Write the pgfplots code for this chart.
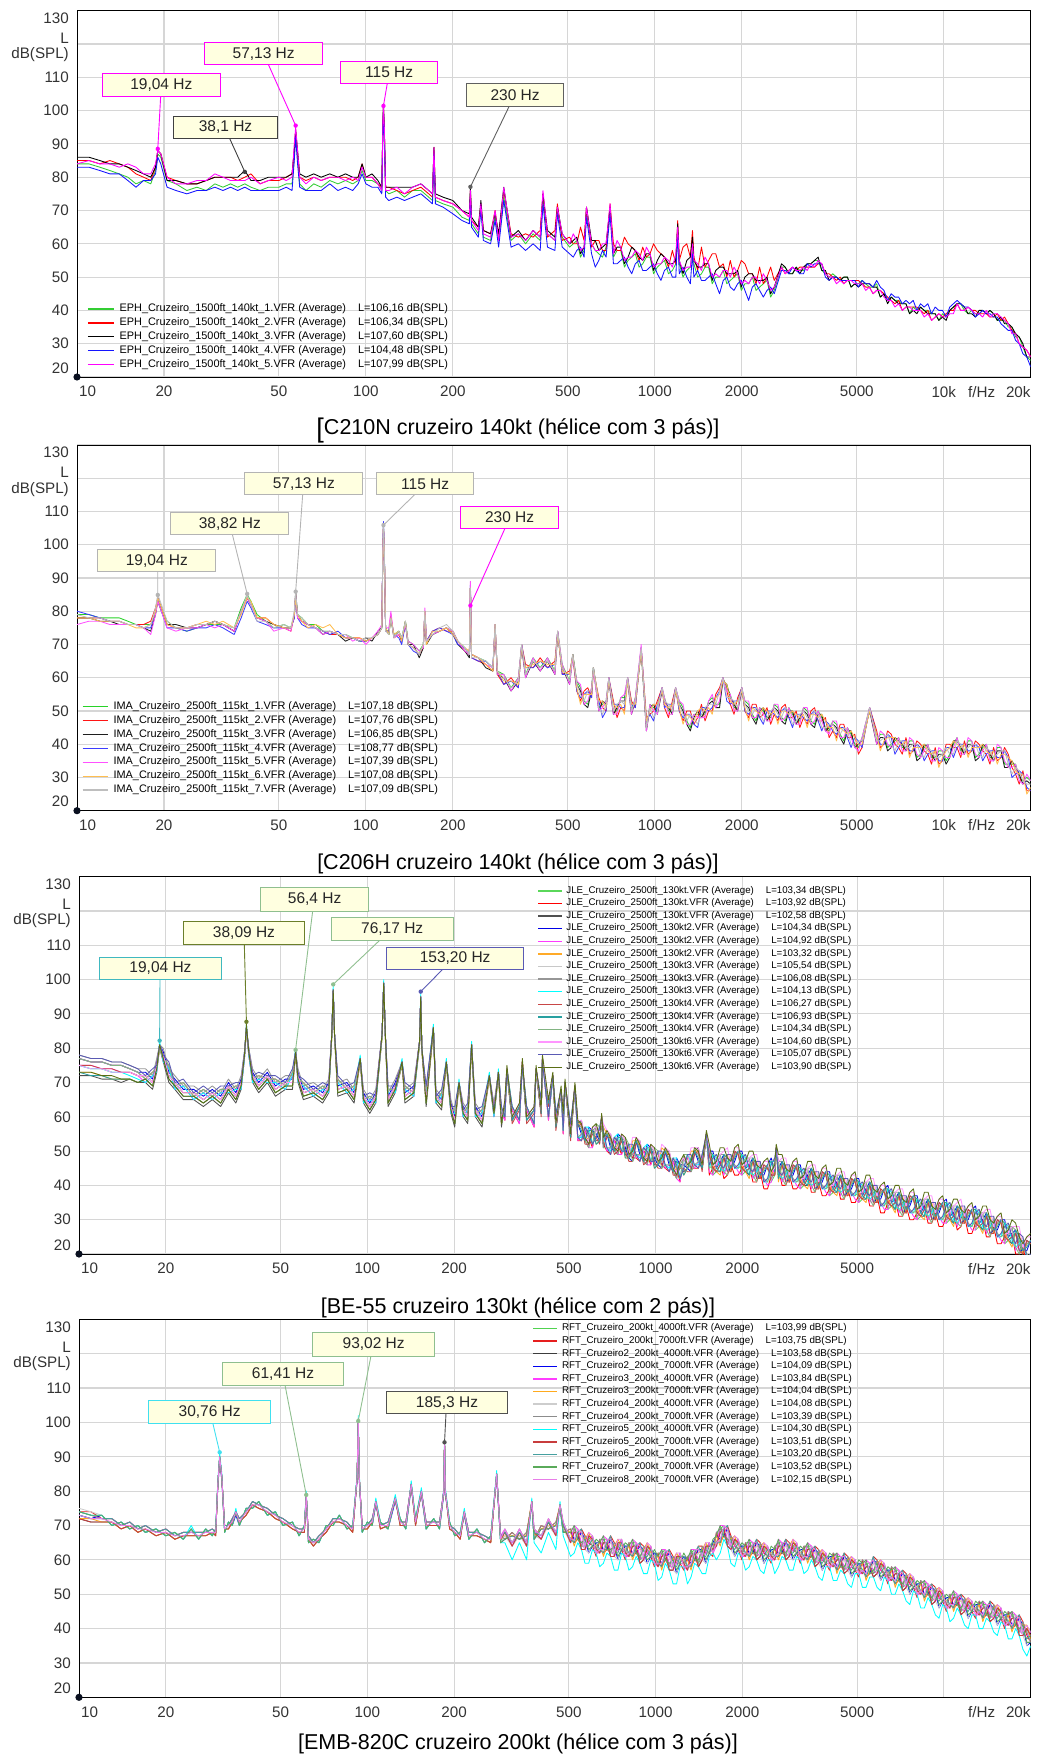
\documentclass[border=0pt]{standalone}
\usepackage{fontspec}
\setmainfont{Liberation Sans}
\usepackage{pgfplots}
\usepackage{pgfplotstable}
\pgfplotsset{compat=1.18}
\definecolor{gridc}{RGB}{214,214,214}
\definecolor{boxfill}{RGB}{255,255,224}
\definecolor{dotc}{RGB}{10,16,32}
\definecolor{aG}{RGB}{50,205,50}\definecolor{aR}{RGB}{255,0,0}\definecolor{aK}{RGB}{0,0,0}
\definecolor{aB}{RGB}{20,20,255}\definecolor{aM}{RGB}{255,0,255}
\definecolor{bG}{RGB}{40,210,40}\definecolor{bR}{RGB}{255,20,20}\definecolor{bK}{RGB}{30,30,30}
\definecolor{bB}{RGB}{60,60,255}\definecolor{bM}{RGB}{255,80,255}\definecolor{bO}{RGB}{255,190,80}
\definecolor{bL}{RGB}{190,190,190}
\definecolor{c1}{RGB}{90,215,90}\definecolor{c2}{RGB}{255,0,0}\definecolor{c3}{RGB}{80,80,80}
\definecolor{c4}{RGB}{0,0,230}\definecolor{c5}{RGB}{255,60,255}\definecolor{c6}{RGB}{255,170,40}
\definecolor{c7}{RGB}{200,200,200}\definecolor{c8}{RGB}{150,150,150}\definecolor{c9}{RGB}{0,255,255}
\definecolor{c10}{RGB}{200,70,70}\definecolor{c11}{RGB}{40,160,160}\definecolor{c12}{RGB}{130,180,130}
\definecolor{c13}{RGB}{255,150,255}\definecolor{c14}{RGB}{90,90,180}\definecolor{c15}{RGB}{90,110,20}
\definecolor{d1}{RGB}{80,210,80}\definecolor{d2}{RGB}{230,30,30}\definecolor{d3}{RGB}{60,60,60}
\definecolor{d4}{RGB}{0,0,240}\definecolor{d5}{RGB}{255,60,255}\definecolor{d6}{RGB}{255,170,30}
\definecolor{d7}{RGB}{205,205,205}\definecolor{d8}{RGB}{140,140,140}\definecolor{d9}{RGB}{0,255,255}
\definecolor{d10}{RGB}{200,60,60}\definecolor{d11}{RGB}{70,160,160}\definecolor{d12}{RGB}{90,170,90}
\definecolor{d13}{RGB}{232,125,232}
\definecolor{kA}{RGB}{64,64,64}\definecolor{kB}{RGB}{96,96,96}\definecolor{kC}{RGB}{180,180,180}
\definecolor{kT}{RGB}{64,184,192}\definecolor{kO}{RGB}{107,127,42}\definecolor{kS}{RGB}{143,191,143}
\definecolor{kP}{RGB}{90,90,180}\definecolor{kY}{RGB}{64,224,240}\definecolor{kD}{RGB}{80,80,80}

\pgfplotstableread{
f g r k b m
10 84 85 86 83 84
11 84 85 86 83 85
12 83 84 85 82 84
13 82 85 84 81 84
14 81 84 84 81 83
15 80 83 83 79 84
16 78 81 82 77 83
17 79 80 81 79 81
18 78 79 80 79 81
18.7 82 83 83 81 84
19.04 87 88 88 86 88
19.5 86 87 87 84 87
20.5 79 80 79 77 80
22 78 79 79 76 78
24 76 78 78 75 78
26 77 78 78 76 79
28 76 79 79 76 79
30 78 80 80 77 81
32 77 80 80 76 80
34 78 80 80 77 79
36 77 79 80 76 79
38.1 78 80 82 77 79
40 77 81 79 76 80
43 76 78 79 76 78
46 77 79 80 76 79
50 77 79 80 76 80
53 78 80 80 77 79
55.5 78 81 81 76 80
56.5 86 88 88 85 90
57.13 93 94 94 92 95
58 86 87 88 84 88
59 78 80 81 77 80
62 76 79 80 76 78
66 78 80 81 76 80
70 77 79 80 76 79
75 79 80 81 78 80
80 78 80 80 76 80
85 79 80 81 77 79
90 78 79 80 76 80
94 79 80 80 78 79
97 82 84 84 81 83
100 79 80 80 78 80
105 79 80 81 77 80
110 78 78 79 77 78
113.5 76 77 77 75 76
114.5 95 96 97 94 97
115 100 101 102 99 101
115.8 93 94 95 92 95
117 76 77 77 74 76
120 75 77 77 73 76
128 76 76 77 74 77
136 74 75 77 73 75
145 76 76 77 74 77
155 76 77 78 75 78
165 74 75 76 73 76
170 73 74 75 72 75
172 88 89 89 87 89
174 73 74 75 72 74
185 72 73 74 71 73
200 71 72 73 69 72
215 68 70 70 67 70
228 67 68 69 66 68
230 75 76 77 74 76
232 66 67 68 65 67
245 63 65 65 62 64
250 71 72 73 70 72
255 62 64 64 61 63
270 61 63 63 60 62
280 68 70 69 67 70
288 61 62 63 59 61
300 74 76 77 73 77
318 61 63 62 59 62
337 63 62 64 60 63
357 60 63 61 58 61
379 63 62 64 60 64
401 61 64 62 58 62
410 73 75 75 72 76
425 63 62 64 59 63
451 61 64 62 58 61
460 70 72 71 69 71
478 62 61 63 59 63
507 59 62 60 57 60
522 60 60 61 56 63
537 61 60 62 58 61
553 56 65 57 59 58
569 58 61 59 56 59
580 69 71 71 68 71
604 60 59 61 57 60
622 58 61 61 53 58
640 57 61 58 55 58
659 56 58 59 58 60
678 59 58 60 56 60
700 70 72 71 69 72
719 56 60 57 54 57
740 58 58 59 54 61
762 58 58 59 55 59
785 53 62 54 56 55
808 55 60 56 53 56
832 56 59 59 51 56
856 57 58 58 54 58
882 53 55 56 55 57
908 54 59 55 52 55
935 56 56 57 52 59
962 56 57 57 53 57
990 51 60 52 54 53
1020 53 58 55 51 54
1050 54 57 57 49 54
1080 55 56 56 52 56
1115 51 53 54 53 55
1150 52 58 54 50 53
1182 54 54 55 50 57
1200 64 67 66 63 65
1215 54 55 55 51 55
1252 50 59 51 53 52
1290 52 60 55 50 53
1327 53 56 56 48 53
1350 58 64 62 57 60
1365 54 56 55 50 55
1407 50 52 53 52 54
1450 51 59 53 49 52
1492 53 53 54 49 56
1535 53 55 54 50 54
1580 48 57 49 51 50
1625 50 57 52 48 51
1675 50 53 53 45 50
1725 52 54 53 49 52
1775 48 50 51 50 52
1825 49 55 51 47 50
1880 50 50 51 46 53
1935 51 52 52 48 51
1992 46 55 47 49 48
2050 48 54 50 46 49
2112 48 51 51 43 48
2175 50 51 51 47 50
2240 46 48 49 48 50
2305 47 53 49 46 48
2374 48 48 49 44 51
2445 49 50 50 46 49
2517 44 53 45 47 46
2590 46 49 47 45 47
2745 53 53 54 52 53
2827 53 51 53 52 51
2910 51 52 51 51 52
2996 51 53 51 53 53
3085 53 52 53 52 52
3176 52 53 51 51 52
3270 52 53 53 51 53
3368 54 53 54 54 52
3470 54 53 54 53 54
3571 55 53 55 54 53
3675 55 54 56 54 55
3783 52 54 52 54 54
3895 51 51 52 50 51
4011 50 51 49 49 50
4130 51 50 50 50 50
4253 50 49 50 50 48
4380 49 50 49 49 49
4508 50 48 50 49 48
4640 50 49 50 49 49
4778 47 49 47 49 49
4920 48 49 48 49 48
5065 48 49 47 47 48
5215 49 48 48 49 48
5370 48 47 48 48 46
5530 47 47 48 48 47
5693 47 45 47 47 45
5860 48 46 47 49 46
6033 44 46 44 47 46
6210 45 45 45 46 44
6392 43 44 42 43 43
6580 44 43 44 45 43
6777 43 42 43 44 41
6980 43 43 42 44 42
7187 42 40 42 42 40
7400 42 41 42 43 41
7617 39 41 39 42 41
7840 41 41 40 43 40
8072 40 41 39 40 40
8310 41 40 41 42 40
8556 40 39 40 41 38
8810 40 40 39 42 39
9071 39 37 39 39 37
9340 39 38 39 41 38
9616 37 39 37 40 39
9900 39 38 38 40 38
10190 38 39 37 38 38
10490 40 40 40 41 39
10800 41 40 41 42 39
11120 42 42 42 43 42
11450 42 40 42 42 40
11790 40 40 41 41 40
12140 39 41 39 41 41
12500 40 40 39 40 40
12870 39 40 38 38 39
13250 39 39 40 39 39
13640 40 39 40 40 38
14040 39 39 39 39 40
14450 40 38 40 39 38
14880 39 38 39 38 39
15320 37 39 37 38 39
15780 37 37 38 36 38
16240 37 38 36 35 37
16720 35 36 36 34 36
17220 35 34 35 34 33
17730 32 33 33 31 33
18250 32 30 32 30 30
18790 29 29 30 27 29
19390 26 28 26 26 28
20000 25 26 26 23 26
}\tA

\pgfplotstableread{
f g r k b m o l
10 79 78 78 80 76 78 79
11 79 78 78 79 77 78 78
12 78 78 77 78 77 77 78
13 78 77 77 77 76 77 77
14 78 77 76 77 76 77 77
15 77 76 76 76 76 76 76
16 76 76 76 76 76 75 76
17 76 76 75 75 75 75 75
18 76 77 74 75 73 76 76
18.7 80 81 79 80 79 80 81
19.04 84 84 83 84 83 84 85
19.6 81 81 80 80 80 81 82
20.5 77 76 76 75 75 76 77
22 75 75 76 75 74 75 75
24 74 75 75 74 75 75 75
26 75 76 75 75 75 76 76
28 76 76 76 75 76 77 76
30 76 77 77 76 75 76 77
32 76 76 76 75 76 77 76
35 75 74 74 73 74 75 75
37 81 80 80 78 80 79 80
38.82 85 84 84 83 84 84 85
40 83 82 82 81 82 83 82
42 79 78 78 77 78 78 77
45 77 78 77 76 77 78 77
48 75 76 76 75 74 76 75
52 76 75 75 75 75 75 76
55 75 74 75 75 74 75 75
56.5 79 79 78 78 79 79 80
57.13 85 85 86 84 85 84 86
58 79 78 79 78 78 79 79
60 78 77 77 76 77 77 78
63 76 76 76 75 76 75 76
67 76 75 75 75 75 76 75
71 74 74 73 74 73 75 74
75 74 73 74 73 74 76 74
80 73 73 73 74 73 73 73
85 73 72 71 72 73 72 73
90 72 72 72 72 71 72 72
95 71 72 71 71 72 72 71
100 71 71 72 71 70 71 72
105 72 72 71 72 72 72 72
110 73 73 74 73 74 73 73
113.5 75 75 75 75 76 75 75
114.5 99 99 98 100 99 98 99
115 105 105 106 107 105 105 106
115.8 98 98 97 99 97 98 98
117 75 74 75 74 75 75 74
120 73 74 73 74 75 73 73
122 78 79 78 78 80 78 78
125 73 72 72 73 72 73 72
130 74 73 74 72 73 74 74
133 72 71 71 70 72 71 72
137 77 76 77 76 76 77 77
140 71 70 70 70 71 70 70
146 70 69 70 68 70 69 69
153 68 67 66 67 68 67 67
158 70 69 69 70 69 70 70
160 80 80 79 80 81 80 80
162 71 71 70 71 71 70 71
170 73 74 73 74 73 74 73
180 74 75 74 75 74 74 75
190 75 74 75 74 75 75 76
200 74 74 73 73 74 73 74
208 71 71 70 70 71 71 71
220 69 68 68 69 68 69 69
228 67 67 66 67 67 68 67
230 87 87 87 88 89 87 87
232 67 66 67 66 67 67 66
245 66 65 66 65 66 66 66
260 65 64 63 65 64 64 65
275 63 62 62 63 63 62 63
280 75 76 75 76 75 76 76
285 62 61 61 62 61 62 62
300 61 58 60 58 61 59 60
318 57 60 56 59 56 59 57
337 60 57 59 57 60 58 59
346 70 70 69 70 70 69 70
357 61 64 60 63 60 63 61
379 66 63 65 63 66 64 65
401 63 66 62 65 62 65 63
425 66 63 65 63 66 64 65
451 62 65 61 64 61 64 62
461 74 74 73 74 74 73 74
478 64 61 63 61 64 62 63
507 59 62 58 61 58 61 59
520 67 66 67 67 66 67 67
537 59 56 58 56 59 57 58
553 57 53 56 54 58 52 55
569 53 56 52 55 52 55 53
586 52 57 51 56 53 55 56
604 57 54 56 54 57 55 56
613 63 62 63 63 62 63 63
640 51 54 50 53 50 53 51
659 52 51 53 48 51 53 49
678 53 50 52 50 53 51 52
693 60 60 59 60 60 59 60
719 50 53 49 52 49 52 50
740 50 48 51 52 49 51 52
762 54 51 53 51 54 52 53
785 54 50 53 51 55 49 52
805 60 60 59 60 60 59 60
830 50 53 49 52 49 52 50
856 54 51 53 51 54 52 53
897 69 69 68 69 70 68 69
935 45 48 44 47 44 47 45
962 52 49 51 49 52 50 51
990 51 50 52 47 50 52 48
1020 50 53 49 52 49 52 50
1060 57 57 56 57 57 56 57
1080 54 51 53 51 54 52 53
1115 50 48 51 52 49 51 52
1150 50 53 49 52 49 52 50
1180 57 57 56 57 57 56 57
1215 53 50 52 50 53 51 52
1252 51 47 50 48 52 46 49
1290 47 50 46 49 46 49 47
1327 45 50 44 49 46 48 49
1365 49 46 48 46 49 47 48
1407 49 48 50 45 48 50 46
1450 49 52 48 51 48 51 49
1492 49 47 50 51 48 50 51
1535 53 50 52 50 53 51 52
1580 54 50 53 51 55 49 52
1625 52 55 51 54 51 54 52
1675 52 57 51 56 53 55 56
1720 60 60 59 60 60 59 60
1775 57 56 58 53 56 58 54
1825 55 52 54 52 55 53 54
1880 51 49 52 53 50 52 53
1935 51 54 50 53 50 53 51
2000 57 57 56 57 57 56 57
2050 53 50 52 50 53 51 52
2112 52 48 51 49 53 47 50
2175 49 52 48 51 48 51 49
2240 47 52 46 51 48 50 51
2305 51 48 50 48 51 49 50
2374 50 49 51 46 49 51 47
2445 48 51 47 50 47 50 48
2517 48 46 49 50 47 49 50
2590 52 49 51 49 52 50 51
2667 51 47 50 48 52 46 49
2745 48 51 47 50 47 50 48
2827 47 52 46 51 48 50 51
2910 51 48 50 48 51 49 50
2996 49 48 50 45 48 50 46
3085 47 50 46 49 46 49 47
3176 47 45 48 49 46 48 49
3270 51 48 50 48 51 49 50
3368 50 46 49 47 51 45 48
3470 47 50 46 49 46 49 47
3571 46 51 45 50 47 49 50
3675 50 47 49 47 50 48 49
3783 48 47 49 44 47 49 45
3895 45 48 44 47 44 47 45
4011 44 42 45 46 43 45 46
4130 47 44 46 44 47 45 46
4253 46 42 45 43 47 41 44
4380 43 46 42 45 42 45 43
4508 41 46 40 45 42 44 45
4640 45 42 44 42 45 43 44
4778 43 42 44 39 42 44 40
4920 40 43 39 42 39 42 40
5065 39 37 40 41 38 40 41
5215 42 39 41 39 42 40 41
5540 51 51 50 51 51 50 51
5860 41 44 40 43 40 43 41
6033 43 39 42 40 44 38 41
6210 43 40 42 40 43 41 42
6392 39 44 38 43 40 42 43
6580 40 43 39 42 39 42 40
6777 41 40 42 37 40 42 38
6980 42 39 41 39 42 40 41
7187 39 37 40 41 38 40 41
7400 39 42 38 41 38 41 39
7617 41 37 40 38 42 36 39
7840 41 38 40 38 41 39 40
8072 36 41 35 40 37 39 40
8310 37 40 36 39 36 39 37
8556 39 38 40 35 38 40 36
8810 40 37 39 37 40 38 39
9071 36 34 37 38 35 37 38
9340 36 39 35 38 35 38 36
9616 38 34 37 35 39 33 36
9900 38 35 37 35 38 36 37
10190 35 40 34 39 36 38 39
10490 37 40 36 39 36 39 37
10800 40 39 41 36 39 41 37
11120 42 39 41 39 42 40 41
11450 38 36 39 40 37 39 40
11790 38 41 37 40 37 40 38
12140 41 37 40 38 42 36 39
12500 41 38 40 38 41 39 40
12870 36 41 35 40 37 39 40
13250 37 40 36 39 36 39 37
13640 39 38 40 35 38 40 36
14040 40 37 39 37 40 38 39
14450 36 34 37 38 35 37 38
14880 36 39 35 38 35 38 36
15320 39 35 38 36 40 34 37
15780 39 36 38 36 39 37 38
16240 34 39 33 38 35 37 38
16720 34 37 33 36 33 36 34
17220 34 33 35 30 33 35 31
17730 34 31 33 31 34 32 33
18250 30 28 31 32 29 31 32
18790 29 32 28 31 28 31 29
19390 30 26 29 27 31 25 28
20000 29 26 28 26 29 27 28
}\tB

\pgfplotstableread{
f y1 y2 y3 y4 y5 y6 y7 y8 y9 y10 y11 y12 y13 y14 y15
10 75 77 72 77 75 73 77 78 75 75 73 77 75 78 73
11 74 76 72 76 75 73 76 77 74 75 72 76 74 77 73
12 74 76 71 76 74 72 76 77 74 74 72 76 74 77 72
13 73 75 71 75 74 71 75 76 73 74 71 75 73 76 72
14 73 75 70 75 73 71 75 76 73 73 71 75 73 76 71
15 73 74 71 74 73 71 74 75 72 73 71 74 73 75 71
16 72 73 70 73 72 70 73 74 71 72 70 73 72 74 70
17 72 71 70 73 70 71 71 74 70 72 71 71 72 72 71
18 70 73 68 71 72 69 73 72 72 70 69 73 70 74 69
18.6 75 74 73 76 73 74 74 77 73 75 74 74 75 75 74
19.04 81 81 80 81 81 80 81 81 82 81 81 80 81 81 81
19.6 78 77 76 79 76 77 77 80 76 78 77 77 78 78 77
20.5 72 75 70 73 74 71 75 74 74 72 71 75 72 76 71
21.5 70 69 68 71 68 69 69 72 68 70 69 69 70 70 69
23 67 70 65 68 69 66 70 69 69 67 66 70 67 71 66
25 67 66 65 68 65 66 66 69 65 67 66 66 67 67 66
27 65 68 63 66 67 64 68 67 67 65 64 68 65 69 64
29 67 66 65 68 65 66 66 69 65 67 66 66 67 67 66
31 65 68 63 66 67 64 68 67 67 65 64 68 65 69 64
33 69 68 67 70 67 68 68 71 67 69 68 68 69 69 68
35 66 69 64 67 68 65 69 68 68 66 65 69 66 70 65
36.5 70 69 68 71 68 69 69 72 68 70 69 69 70 70 69
37.5 78 78 77 79 77 78 78 79 77 78 78 78 78 78 78
38.09 86 86 85 86 86 85 86 86 87 86 86 85 86 86 87
38.8 79 79 78 80 78 79 79 80 78 79 79 79 79 79 79
40 72 71 70 73 70 71 71 74 70 72 71 71 72 72 71
42 69 72 67 70 71 68 72 71 71 69 68 72 69 73 68
45 72 71 70 73 70 71 71 74 70 72 71 71 72 72 71
48 68 71 66 69 70 67 71 70 70 68 67 71 68 72 67
52 70 69 68 71 68 69 69 72 68 70 69 69 70 70 69
55 70 73 68 71 72 69 73 72 72 70 69 73 70 74 69
56.4 79 79 78 79 79 78 79 79 80 79 79 78 79 79 79
57.5 72 71 70 73 70 71 71 74 70 72 71 71 72 72 71
60 67 70 65 68 69 66 70 69 69 67 66 70 67 71 66
65 68 67 66 69 66 67 67 70 66 68 67 67 68 68 67
70 66 69 64 67 68 65 69 68 68 66 65 69 66 70 65
73.5 69 68 67 70 67 68 68 71 67 69 68 68 69 69 68
75.3 84 84 83 84 84 83 84 84 84 84 84 83 84 84 84
76.17 97 97 96 97 97 96 97 97 98 97 97 96 97 97 97
77 84 84 83 84 84 83 84 84 84 84 84 83 84 84 84
79 68 71 66 69 70 67 71 70 70 68 67 71 68 72 67
85 69 68 67 70 67 68 68 71 67 69 68 68 69 69 68
90 66 69 64 67 68 65 69 68 68 66 65 69 66 70 65
94.5 77 77 76 77 77 76 77 77 78 77 77 76 77 77 77
97 66 65 64 67 64 65 65 68 64 66 65 65 66 66 65
102 63 66 61 64 65 62 66 65 65 63 62 66 63 67 62
107 66 65 64 67 64 65 65 68 64 66 65 65 66 66 65
112.5 84 84 83 84 84 83 84 84 84 84 84 83 84 84 84
114 99 99 98 99 99 98 99 99 100 99 99 98 99 99 99
115.5 84 84 83 84 84 83 84 84 84 84 84 83 84 84 84
118 65 68 63 66 67 64 68 67 67 65 64 68 65 69 64
125 69 68 67 70 67 68 68 71 67 69 68 68 69 69 68
132 76 76 75 76 76 75 76 76 77 76 76 75 76 76 76
135 66 69 64 67 68 65 69 68 68 66 65 69 66 70 65
145 68 67 66 69 66 67 67 70 66 68 67 67 68 68 67
151.8 82 82 81 82 82 81 82 82 82 82 82 81 82 82 82
153.2 95 95 94 95 95 94 95 95 96 95 95 94 95 95 95
154.6 80 80 79 80 80 79 80 80 80 80 80 79 80 80 80
160 65 68 63 66 67 64 68 67 67 65 64 68 65 69 64
169.5 86 86 85 86 86 85 86 86 87 86 86 85 86 86 86
173 66 65 64 67 64 65 65 68 64 66 65 65 66 66 65
181 64 67 62 65 66 63 67 66 66 64 63 67 64 68 63
188 76 76 75 76 76 75 76 76 77 76 76 75 76 76 76
195 63 62 61 64 61 62 62 65 61 63 62 62 63 63 62
201 59 62 57 60 61 58 62 61 61 59 58 62 59 63 58
208 70 70 69 70 70 69 70 70 71 70 70 69 70 70 70
215 62 61 60 63 60 61 61 64 60 62 61 61 62 62 61
223 60 63 58 61 62 59 63 62 62 60 59 63 60 64 59
230 81 81 80 81 81 80 81 81 82 81 81 80 81 81 81
237 62 61 60 63 60 61 61 64 60 62 61 61 62 62 61
250 59 62 57 60 61 58 62 61 61 59 58 62 59 63 58
265 72 72 71 72 72 71 72 72 73 72 72 71 72 72 72
275 62 61 60 63 60 61 61 64 60 62 61 61 62 62 61
285 73 73 72 73 73 72 73 73 74 73 73 72 73 73 73
292 59 62 57 60 61 58 62 61 61 59 58 62 59 63 58
300 64 59 64 64 59 64 60 64 60 63 64 60 65 60 65
305 73 74 73 74 74 72 74 73 74 74 73 74 74 73 75
318 59 62 59 59 62 59 63 59 63 58 59 63 60 63 60
337 63 58 63 63 58 63 59 63 59 62 63 59 64 59 64
345 75 76 75 76 75 76 74 76 75 76 75 75 76 75 77
357 59 62 59 59 62 59 63 59 63 58 59 63 60 63 60
379 62 57 62 62 57 62 58 62 58 61 62 58 63 58 63
385 73 74 74 73 74 73 74 74 73 74 74 73 74 74 75
401 61 64 61 61 64 61 65 61 65 60 61 65 62 65 62
405 76 77 76 77 77 76 77 76 77 77 76 77 77 76 78
425 64 59 64 64 59 64 60 64 60 63 64 60 65 60 65
440 71 72 72 71 72 71 72 72 71 72 72 71 72 72 73
451 57 60 57 57 60 57 61 57 61 56 57 61 58 61 58
470 67 68 68 67 68 67 68 68 67 68 68 67 68 68 69
478 60 55 60 60 55 60 56 60 56 59 60 56 61 56 61
485 69 70 70 69 70 69 70 70 69 70 70 69 70 70 71
507 54 57 54 54 57 54 58 54 58 53 54 58 55 58 55
525 68 69 69 68 69 68 69 69 68 69 69 68 69 69 70
537 58 53 58 58 53 58 54 58 54 57 58 54 59 54 59
553 58 53 59 55 55 58 53 57 54 58 56 55 59 53 58
569 53 56 53 53 56 53 57 53 57 52 53 57 54 57 54
586 51 54 53 57 51 54 56 51 57 52 56 54 53 55 52
604 56 51 56 56 51 56 52 56 52 55 56 52 57 52 57
622 55 57 53 55 57 52 56 57 54 54 52 58 57 54 58
640 53 56 53 53 56 53 57 53 57 52 53 57 54 57 54
650 59 60 60 59 60 59 60 60 59 60 60 59 60 60 61
659 55 52 54 51 54 57 53 53 54 51 55 51 58 56 54
678 55 50 55 55 50 55 51 55 51 54 55 51 56 51 56
698 54 49 55 51 51 54 49 53 50 54 52 51 55 49 54
719 50 53 50 50 53 50 54 50 54 49 50 54 51 54 51
740 49 52 51 55 49 52 54 49 55 50 54 52 51 53 50
762 54 49 54 54 49 54 50 54 50 53 54 50 55 50 55
785 51 53 49 51 53 48 52 53 50 50 48 54 53 50 54
808 48 51 48 48 51 48 52 48 52 47 48 52 49 52 49
832 51 48 50 47 50 53 49 49 50 47 51 47 54 52 50
856 53 48 53 53 48 53 49 53 49 52 53 49 54 49 54
882 52 47 53 49 49 52 47 51 48 52 50 49 53 47 52
908 47 50 47 47 50 47 51 47 51 46 47 51 48 51 48
935 46 49 48 52 46 49 51 46 52 47 51 49 48 50 47
962 51 46 51 51 46 51 47 51 47 50 51 47 52 47 52
990 48 50 46 48 50 45 49 50 47 47 45 51 50 47 51
1020 46 49 46 46 49 46 50 46 50 45 46 50 47 50 47
1050 49 46 48 45 48 51 47 47 48 45 49 45 52 50 48
1080 50 45 50 50 45 50 46 50 46 49 50 46 51 46 51
1115 49 44 50 46 46 49 44 48 45 49 47 46 50 44 49
1150 44 47 44 44 47 44 48 44 48 43 44 48 45 48 45
1182 42 45 44 48 42 45 47 42 48 43 47 45 44 46 43
1215 46 41 46 46 41 46 42 46 42 45 46 42 47 42 47
1252 46 48 44 46 48 43 47 48 45 45 43 49 48 45 49
1290 45 48 45 45 48 45 49 45 49 44 45 49 46 49 46
1327 48 45 47 44 47 50 46 46 47 44 48 44 51 49 47
1365 50 45 50 50 45 50 46 50 46 49 50 46 51 46 51
1407 50 45 51 47 47 50 45 49 46 50 48 47 51 45 50
1450 45 48 45 45 48 45 49 45 49 44 45 49 46 49 46
1500 54 55 55 54 55 54 55 55 54 55 55 54 55 55 56
1535 49 43 49 50 44 49 46 50 45 49 50 45 51 46 52
1580 43 45 45 50 43 46 49 44 49 45 49 46 46 48 46
1625 44 46 44 45 47 44 49 45 48 44 45 48 46 49 47
1675 46 47 44 47 48 43 48 49 45 46 44 49 49 46 51
1725 48 42 48 49 43 48 45 49 44 48 49 44 50 45 51
1775 47 43 46 44 46 49 46 46 46 44 48 43 51 49 48
1825 44 46 44 45 47 44 49 45 48 44 45 48 46 49 47
1880 49 43 50 47 46 49 45 49 45 50 48 46 51 45 51
1935 49 43 49 50 44 49 46 50 45 49 50 45 51 46 52
1992 43 45 45 50 43 46 49 44 49 45 49 46 46 48 46
2050 44 46 44 45 47 44 49 45 48 44 45 48 46 49 47
2112 45 46 43 46 47 42 47 48 44 45 43 48 48 45 50
2175 47 41 47 48 42 47 44 48 43 47 48 43 49 44 50
2240 45 41 44 42 44 47 44 44 44 42 46 41 49 47 46
2305 42 44 42 43 45 42 47 43 46 42 43 46 44 47 45
2374 45 39 46 43 42 45 41 45 41 46 44 42 47 41 47
2445 45 39 45 46 40 45 42 46 41 45 46 41 47 42 48
2517 41 43 43 48 41 44 47 42 47 43 47 44 44 46 44
2590 43 45 43 44 46 43 48 44 47 43 44 47 45 48 46
2620 50 51 51 50 51 50 51 51 50 51 51 50 51 51 52
2667 44 45 42 45 46 41 46 47 43 44 42 47 47 44 49
2745 46 40 46 47 41 46 43 47 42 46 47 42 48 43 49
2827 44 40 43 41 43 46 43 43 43 41 45 40 48 46 45
2910 41 43 41 42 44 41 46 42 45 41 42 45 43 46 44
2996 45 39 46 43 42 45 41 45 41 46 44 42 47 41 47
3085 45 39 45 46 40 45 42 46 41 45 46 41 47 42 48
3176 39 41 41 46 39 42 45 40 45 41 45 42 42 44 42
3270 40 42 40 41 43 40 45 41 44 40 41 44 42 45 43
3368 42 43 40 43 44 39 44 45 41 42 40 45 45 42 47
3470 44 38 44 45 39 44 41 45 40 44 45 40 46 41 47
3571 42 38 41 39 41 44 41 41 41 39 43 38 46 44 43
3675 39 41 39 40 42 39 44 40 43 39 40 43 41 44 42
3783 43 37 44 41 40 43 39 43 39 44 42 40 45 39 45
3895 43 37 43 44 38 43 40 44 39 43 44 39 45 40 46
4011 37 39 39 44 37 40 43 38 43 39 43 40 40 42 40
4130 38 40 38 39 41 38 43 39 42 38 39 42 40 43 41
4253 40 41 38 41 42 37 42 43 39 40 38 43 43 40 45
4380 42 36 42 43 37 42 39 43 38 42 43 38 44 39 45
4508 40 36 39 37 39 42 39 39 39 37 41 36 44 42 41
4640 37 39 37 38 40 37 42 38 41 37 38 41 39 42 40
4778 41 35 42 39 38 41 37 41 37 42 40 38 43 37 43
4920 41 35 41 42 36 41 38 42 37 41 42 37 43 38 44
5065 35 37 37 42 35 38 41 36 41 37 41 38 38 40 38
5215 36 38 36 37 39 36 41 37 40 36 37 40 38 41 39
5370 38 39 36 39 40 35 40 41 37 38 36 41 41 38 43
5530 40 34 40 41 35 40 37 41 36 40 41 36 42 37 43
5693 38 34 37 35 37 40 37 37 37 35 39 34 42 40 39
5860 35 37 35 36 38 35 40 36 39 35 36 39 37 40 38
6033 38 32 39 36 35 38 34 38 34 39 37 35 40 34 40
6210 38 32 38 39 33 38 35 39 34 38 39 34 40 35 41
6392 33 35 35 40 33 36 39 34 39 35 39 36 36 38 36
6580 34 36 34 35 37 34 39 35 38 34 35 38 36 39 37
6777 35 36 33 36 37 32 37 38 34 35 33 38 38 35 40
6980 37 31 37 38 32 37 34 38 33 37 38 33 39 34 40
7187 35 31 34 32 34 37 34 34 34 32 36 31 39 37 36
7400 32 34 32 33 35 32 37 33 36 32 33 36 34 37 35
7617 36 30 37 34 33 36 32 36 32 37 35 33 38 32 38
7840 36 30 36 37 31 36 33 37 32 36 37 32 38 33 39
8072 30 32 32 37 30 33 36 31 36 32 36 33 33 35 33
8310 31 33 31 32 34 31 36 32 35 31 32 35 33 36 34
8556 33 34 31 34 35 30 35 36 32 33 31 36 36 33 38
8810 35 29 35 36 30 35 32 36 31 35 36 31 37 32 38
9071 33 29 32 30 32 35 32 32 32 30 34 29 37 35 34
9340 30 32 30 31 33 30 35 31 34 30 31 34 32 35 33
9616 34 28 35 32 31 34 30 34 30 35 33 31 36 30 36
9900 34 28 34 35 29 34 31 35 30 34 35 30 36 31 37
10190 29 31 31 36 29 32 35 30 35 31 35 32 32 34 32
10490 30 32 30 31 33 30 35 31 34 30 31 34 32 35 33
10800 31 32 29 32 33 28 33 34 30 31 29 34 34 31 36
11120 33 27 33 34 28 33 30 34 29 33 34 29 35 30 36
11450 32 28 31 29 31 34 31 31 31 29 33 28 36 34 33
11790 29 31 29 30 32 29 34 30 33 29 30 33 31 34 32
12140 32 26 33 30 29 32 28 32 28 33 31 29 34 28 34
12500 32 26 32 33 27 32 29 33 28 32 33 28 34 29 35
12870 27 29 29 34 27 30 33 28 33 29 33 30 30 32 30
13250 28 30 28 29 31 28 33 29 32 28 29 32 30 33 31
13640 29 30 27 30 31 26 31 32 28 29 27 32 32 29 34
14040 31 25 31 32 26 31 28 32 27 31 32 27 33 28 34
14450 29 25 28 26 28 31 28 28 28 26 30 25 33 31 30
14880 26 28 26 27 29 26 31 27 30 26 27 30 28 31 29
15320 29 23 30 27 26 29 25 29 25 30 28 26 31 25 31
15780 29 23 29 30 24 29 26 30 25 29 30 25 31 26 32
16240 23 25 25 30 23 26 29 24 29 25 29 26 26 28 26
16720 24 26 24 25 27 24 29 25 28 24 25 28 26 29 27
17220 25 26 23 26 27 22 27 28 24 25 23 28 28 25 30
17730 26 20 26 27 21 26 23 27 22 26 27 22 28 23 29
18250 24 20 23 21 23 26 23 23 23 21 25 20 28 26 25
18790 20 22 20 21 23 20 25 21 24 20 21 24 22 25 23
19390 23 17 24 21 20 23 19 23 19 24 22 20 25 19 25
20000 23 17 23 24 18 23 20 24 19 23 24 19 25 20 26
}\tC

\pgfplotstableread{
f y1 y2 y3 y4 y5 y6 y7 y8 y9 y10 y11 y12 y13
10 73 74 72 73 74 72 75 74 74 72 73 74 73
11 72 74 71 72 73 72 74 73 73 71 72 73 72
12 73 72 71 73 72 71 73 72 73 71 72 73 72
13 70 72 71 70 72 71 70 72 70 71 72 70 71
14 71 70 69 71 70 69 71 70 71 69 70 71 70
15 69 71 70 69 71 70 69 71 69 70 71 69 70
16 70 69 68 70 69 68 70 69 70 68 69 70 69
17 68 70 69 68 70 69 68 70 68 69 70 68 69
18.5 69 68 67 69 68 67 69 68 69 67 68 69 68
20 67 69 68 67 69 68 67 69 67 68 69 67 68
21.5 68 67 66 68 67 66 68 67 68 66 67 68 67
23 66 68 67 66 68 67 66 68 66 67 68 66 67
24.5 69 68 67 69 68 67 69 68 70 67 68 69 68
26 66 68 67 66 68 67 66 68 66 67 68 66 67
27.5 69 68 67 69 68 67 69 68 69 67 68 69 68
29 67 69 68 67 69 68 67 69 67 68 69 67 68
29.8 69 68 67 69 68 67 69 68 69 67 68 69 68
30.3 82 82 82 81 82 82 82 81 83 82 82 82 82
30.76 90 90 90 89 90 90 90 89 91 90 90 90 90
31.3 84 84 84 83 84 84 84 83 85 84 84 84 84
32 68 70 69 68 70 69 68 70 68 69 70 68 69
33 71 70 69 71 70 69 71 70 71 69 70 71 70
34 70 72 71 70 72 71 70 72 70 71 72 70 71
35 74 74 74 73 74 74 74 73 75 74 74 74 74
36 70 72 71 70 72 71 70 72 70 71 72 70 71
38 75 74 73 75 74 73 75 74 75 73 74 75 74
40 75 77 76 75 77 76 75 77 75 76 77 75 76
42 77 76 75 77 76 75 77 76 77 75 76 77 76
45 73 75 74 73 75 74 73 75 73 74 75 73 74
48 74 73 72 74 73 72 74 73 74 72 73 74 73
51 70 72 71 70 72 71 70 72 70 71 72 70 71
55 71 70 69 71 70 69 71 70 71 69 70 71 70
58 67 69 68 67 69 68 67 69 67 68 69 67 68
60.5 70 69 68 70 69 68 70 69 70 68 69 70 69
61.41 79 79 79 78 79 79 79 78 80 79 79 79 79
62.5 65 67 66 65 67 66 65 67 65 66 67 65 66
65 66 65 64 66 65 64 66 65 66 64 65 66 65
68 65 67 66 65 67 66 65 67 65 66 67 65 66
72 70 69 68 70 69 68 70 69 70 68 69 70 69
76 70 72 71 70 72 71 70 72 70 71 72 70 71
80 73 72 71 73 72 71 73 72 73 71 72 73 72
85 69 71 70 69 71 70 69 71 69 70 71 69 70
89 70 69 68 70 69 68 70 69 70 68 69 70 69
92.2 84 84 84 83 84 84 84 83 85 84 84 84 84
93.02 101 101 101 100 101 101 101 100 102 101 101 101 101
93.8 84 84 84 83 84 84 84 83 85 84 84 84 84
96 68 70 69 68 70 69 68 70 68 69 70 68 69
100 71 70 69 71 70 69 71 70 71 69 70 71 70
104 70 72 71 70 72 71 70 72 70 71 72 70 71
107 77 77 77 76 77 77 77 76 78 77 77 77 77
111 71 70 69 71 70 69 71 70 71 69 70 71 70
118 69 71 70 69 71 70 69 71 69 70 71 69 70
125 78 78 78 77 78 78 78 77 79 78 78 78 78
130 72 71 70 72 71 70 72 71 72 70 71 72 71
136 69 71 70 69 71 70 69 71 69 70 71 69 70
142 82 82 82 81 82 82 82 81 83 82 82 82 82
147 72 71 70 72 71 70 72 71 72 70 71 72 71
154 80 80 80 79 80 80 80 79 81 80 80 80 80
160 69 71 70 69 71 70 69 71 69 70 71 69 70
170 72 71 70 72 71 70 72 71 72 70 71 72 71
178 69 71 70 69 71 70 69 71 69 70 71 69 70
184.2 80 80 80 79 80 80 80 79 81 80 80 80 80
185.3 94 94 94 93 94 94 94 93 95 94 94 94 94
186.5 80 80 80 79 80 80 80 79 81 80 80 80 80
193 71 70 69 71 70 69 71 70 71 69 70 71 70
201 67 69 68 67 69 68 67 69 67 68 69 67 68
210 68 67 66 68 67 66 68 67 68 66 67 68 67
217 74 74 74 73 74 74 74 73 75 74 74 74 74
225 66 68 67 66 68 67 66 68 66 67 68 66 67
240 69 68 67 69 68 67 69 68 69 67 68 69 68
255 65 67 66 65 67 66 65 67 65 66 67 65 66
268 67 66 65 67 66 65 67 66 67 65 66 67 66
281 85 85 85 84 85 85 85 84 86 85 85 85 85
290 65 67 66 65 67 66 65 67 65 66 67 65 66
300 69 66 68 66 69 67 67 66 65 68 68 66 69
318 65 68 64 67 64 67 64 68 60 64 65 67 65
337 69 66 68 66 69 67 67 66 65 68 68 66 69
357 65 68 64 67 64 67 64 68 60 64 65 67 65
372 77 77 77 76 77 77 77 76 78 77 77 77 77
379 69 66 68 66 69 67 67 66 65 68 68 66 69
401 67 70 66 69 66 69 66 70 62 66 67 69 67
425 72 69 71 69 72 70 70 69 68 71 71 69 72
451 68 71 67 70 67 70 67 71 63 67 68 70 68
466 76 76 76 75 76 76 76 75 77 76 76 76 76
478 71 68 70 68 71 69 69 68 67 70 70 68 71
507 66 69 65 68 65 68 65 69 61 65 66 68 66
522 69 65 68 66 70 64 66 69 62 68 65 70 66
537 69 66 68 66 69 67 67 66 65 68 68 66 69
553 64 69 63 68 65 67 67 64 63 63 69 65 68
569 64 67 63 66 63 66 63 67 59 63 64 66 64
586 66 65 67 62 65 68 62 66 59 67 64 63 68
604 67 64 66 64 67 65 65 64 63 66 66 64 67
622 63 61 64 65 62 64 64 63 62 63 65 66 62
640 63 66 62 65 62 65 62 66 58 62 63 65 63
659 66 62 65 63 67 61 63 66 59 65 62 67 63
678 66 63 65 63 66 64 64 63 62 65 65 63 66
698 62 67 61 66 63 65 65 62 61 61 67 63 66
719 62 65 61 64 61 64 61 65 57 61 62 64 62
740 64 63 65 60 63 66 60 64 57 65 62 61 66
762 66 63 65 63 66 64 64 63 62 65 65 63 66
785 62 60 63 64 61 63 63 62 61 62 64 65 61
808 62 65 61 64 61 64 61 65 57 61 62 64 62
832 65 61 64 62 66 60 62 65 58 64 61 66 62
856 65 62 64 62 65 63 63 62 61 64 64 62 65
882 60 65 59 64 61 63 63 60 59 59 65 61 64
908 61 64 60 63 60 63 60 64 56 60 61 63 61
935 63 62 64 59 62 65 59 63 56 64 61 60 65
962 64 61 63 61 64 62 62 61 60 63 63 61 64
990 60 58 61 62 59 61 61 60 59 60 62 63 59
1020 59 62 58 61 58 61 58 62 54 58 59 61 59
1050 62 58 61 59 63 57 59 62 55 61 58 63 59
1080 63 60 62 60 63 61 61 60 59 62 62 60 63
1115 58 63 57 62 59 61 61 58 57 57 63 59 62
1150 58 61 57 60 57 60 57 61 53 57 58 60 58
1182 60 59 61 56 59 62 56 60 53 61 58 57 62
1215 62 59 61 59 62 60 60 59 58 61 61 59 62
1252 59 57 60 61 58 60 60 59 58 59 61 62 58
1290 58 61 57 60 57 60 57 61 53 57 58 60 58
1327 62 58 61 59 63 57 59 62 55 61 58 63 59
1365 63 60 62 60 63 61 61 60 59 62 62 60 63
1407 59 64 58 63 60 62 62 59 58 58 64 60 63
1450 61 64 60 63 60 63 60 64 56 60 61 63 61
1492 63 62 64 59 62 65 59 63 56 64 61 60 65
1535 65 62 64 62 65 63 63 62 61 64 64 62 65
1580 63 61 64 65 62 64 64 63 62 63 65 66 62
1625 65 68 64 67 64 67 64 68 60 64 65 67 65
1675 69 65 68 66 70 64 66 69 62 68 65 70 66
1725 70 67 69 67 70 68 68 67 66 69 69 67 70
1775 65 70 64 69 66 68 68 65 64 64 70 66 69
1825 64 67 63 66 63 66 63 67 59 63 64 66 64
1880 65 64 66 61 64 67 61 65 58 66 63 62 67
1935 66 63 65 63 66 64 64 63 62 65 65 63 66
1992 62 60 63 64 61 63 63 62 61 62 64 65 61
2050 62 65 61 64 61 64 61 65 57 61 62 64 62
2112 65 61 64 62 66 60 62 65 58 64 61 66 62
2175 65 62 64 62 65 63 63 62 61 64 64 62 65
2240 61 66 60 65 62 64 64 61 60 60 66 62 65
2305 62 65 61 64 61 64 61 65 57 61 62 64 62
2374 63 62 64 59 62 65 59 63 56 64 61 60 65
2445 64 61 63 61 64 62 62 61 60 63 63 61 64
2517 61 59 62 63 60 62 62 61 60 61 63 64 60
2590 61 64 60 63 60 63 60 64 56 60 61 63 61
2667 65 61 64 62 66 60 62 65 58 64 61 66 62
2745 65 62 64 62 65 63 63 62 61 64 64 62 65
2827 61 66 60 65 62 64 64 61 60 60 66 62 65
2910 62 65 61 64 61 64 61 65 57 61 62 64 62
2996 64 63 65 60 63 66 60 64 57 65 62 61 66
3085 65 62 64 62 65 63 63 62 61 64 64 62 65
3176 61 59 62 63 60 62 62 61 60 61 63 64 60
3270 61 64 60 63 60 63 60 64 56 60 61 63 61
3368 64 60 63 61 65 59 61 64 57 63 60 65 61
3470 64 61 63 61 64 62 62 61 60 63 63 61 64
3571 59 64 58 63 60 62 62 59 58 58 64 60 63
3675 60 63 59 62 59 62 59 63 55 59 60 62 60
3783 61 60 62 57 60 63 57 61 54 62 59 58 63
3895 62 59 61 59 62 60 60 59 58 61 61 59 62
4011 59 57 60 61 58 60 60 59 58 59 61 62 58
4130 59 62 58 61 58 61 58 62 54 58 59 61 59
4253 61 57 60 58 62 56 58 61 54 60 57 62 58
4380 61 58 60 58 61 59 59 58 57 60 60 58 61
4508 57 62 56 61 58 60 60 57 56 56 62 58 61
4640 58 61 57 60 57 60 57 61 53 57 58 60 58
4778 59 58 60 55 58 61 55 59 52 60 57 56 61
4920 60 57 59 57 60 58 58 57 56 59 59 57 60
5065 57 55 58 59 56 58 58 57 56 57 59 60 56
5215 57 60 56 59 56 59 56 60 52 56 57 59 57
5370 59 55 58 56 60 54 56 59 52 58 55 60 56
5530 59 56 58 56 59 57 57 56 55 58 58 56 59
5693 56 61 55 60 57 59 59 56 55 55 61 57 60
5860 57 60 56 59 56 59 56 60 52 56 57 59 57
6033 58 57 59 54 57 60 54 58 51 59 56 55 60
6210 59 56 58 56 59 57 57 56 55 58 58 56 59
6392 55 53 56 57 54 56 56 55 54 55 57 58 54
6580 55 58 54 57 54 57 54 58 50 54 55 57 55
6777 57 53 56 54 58 52 54 57 50 56 53 58 54
6980 57 54 56 54 57 55 55 54 53 56 56 54 57
7187 52 57 51 56 53 55 55 52 51 51 57 53 56
7400 53 56 52 55 52 55 52 56 48 52 53 55 53
7617 54 53 55 50 53 56 50 54 47 55 52 51 56
7840 55 52 54 52 55 53 53 52 51 54 54 52 55
8072 51 49 52 53 50 52 52 51 50 51 53 54 50
8310 51 54 50 53 50 53 50 54 46 50 51 53 51
8556 53 49 52 50 54 48 50 53 46 52 49 54 50
8810 53 50 52 50 53 51 51 50 49 52 52 50 53
9071 48 53 47 52 49 51 51 48 47 47 53 49 52
9340 49 52 48 51 48 51 48 52 44 48 49 51 49
9616 50 49 51 46 49 52 46 50 43 51 48 47 52
9900 51 48 50 48 51 49 49 48 47 50 50 48 51
10190 47 45 48 49 46 48 48 47 46 47 49 50 46
10490 47 50 46 49 46 49 46 50 42 46 47 49 47
10800 50 46 49 47 51 45 47 50 43 49 46 51 47
11120 50 47 49 47 50 48 48 47 46 49 49 47 50
11450 45 50 44 49 46 48 48 45 44 44 50 46 49
11790 46 49 45 48 45 48 45 49 41 45 46 48 46
12140 47 46 48 43 46 49 43 47 40 48 45 44 49
12500 48 45 47 45 48 46 46 45 44 47 47 45 48
12870 45 43 46 47 44 46 46 45 44 45 47 48 44
13250 45 48 44 47 44 47 44 48 40 44 45 47 45
13640 47 43 46 44 48 42 44 47 40 46 43 48 44
14040 47 44 46 44 47 45 45 44 43 46 46 44 47
14450 43 48 42 47 44 46 46 43 42 42 48 44 47
14880 44 47 43 46 43 46 43 47 39 43 44 46 44
15320 45 44 46 41 44 47 41 45 38 46 43 42 47
15780 46 43 45 43 46 44 44 43 42 45 45 43 46
16240 42 40 43 44 41 43 43 42 41 42 44 45 41
16720 42 45 41 44 41 44 41 45 37 41 42 44 42
17220 44 40 43 41 45 39 41 44 37 43 40 45 41
17730 44 41 43 41 44 42 42 41 40 43 43 41 44
18250 39 44 38 43 40 42 42 39 38 38 44 40 43
18790 39 42 38 41 38 41 38 42 34 38 39 41 39
19390 39 38 40 35 38 41 35 39 32 40 37 36 41
20000 39 36 38 36 39 37 37 36 35 38 38 36 39
}\tD

\newcommand{\tlf}{\fontsize{15.2}{17}\selectfont}
\tikzset{tl/.style={inner sep=0pt, font=\tlf, text=black!80}}
\newcommand{\lent}[2]{\addlegendentry{#1\hspace{12pt}L=#2 dB(SPL)}}
\newcommand{\callout}[8]{%
  \draw[#1, line width=0.9pt] (#7pt,{-(#3+#5)*1pt}) -- (#8);
  \fill[#1] (#8) circle (2.2pt);
  \node[draw=#1, fill=boxfill, line width=1pt, minimum width=#4pt, minimum height=#5pt,
        inner sep=0pt, anchor=north west, font=\fontsize{15.5}{17}\selectfont, text=black!85]
        at (#2pt,-#3pt) {#6};}
\newcommand{\frameextras}[1]{%
  \node[tl, anchor=east] at ([xshift=-8pt,yshift=-7.6pt]#1.north west) {130};
  \node[tl, anchor=east] at ([xshift=-8pt,yshift=-27.6pt]#1.north west) {L};
  \node[tl, anchor=east] at ([xshift=-8pt,yshift=-44.3pt]#1.north west) {dB(SPL)};
  \node[tl, anchor=east] at ([xshift=-8pt,yshift=9pt]#1.south west) {20};
  \node[tl, anchor=north west] at ([xshift=2pt,yshift=-9pt]#1.south west) {10};
  \node[tl, anchor=north] at ([xshift=-49pt,yshift=-9pt]#1.south east) {f/Hz};
  \node[tl, anchor=north east] at ([yshift=-9pt]#1.south east) {20k};
  \fill[dotc] (#1.south west) circle (3.6pt);}

\pgfplotsset{
  scale only axis, xmin=10, xmax=20000, ymin=20, ymax=130,
  xtick={20,50,100,200,500,1000,2000,5000,10000},
  ytick={20,30,...,130},
  yticklabels={,30,40,50,60,70,80,90,100,110,,},
  grid=major, major grid style={gridc, line width=1.1pt},
  major tick length=0pt, minor tick length=0pt,
  tick label style={font=\tlf, text=black!80, inner sep=0pt},
  xticklabel style={anchor=north, yshift=-9pt},
  yticklabel style={anchor=east, xshift=-8pt},
  axis line style={black, line width=1pt},
  every axis plot/.append style={line width=0.85pt, line join=round, mark=none},
  legend cell align=left,
}

\begin{document}
\begin{tikzpicture}
\useasboundingbox (0pt,0pt) rectangle (1036pt,-1760pt);

% ---------------- Panel 1
\begin{axis}[xmode=log, name=ax1, at={(77pt,-377pt)}, anchor=south west,
  width=953.7pt, height=366.3pt,
  xticklabels={20,50,100,200,500,1000,2000,5000,10k},
  legend style={draw=none, fill=none, inner sep=0pt, at={(0.0105,0.1998)}, anchor=north west,
    font=\fontsize{10.9}{12}\selectfont, row sep=3.5pt,
    nodes={inner sep=0pt, text height=7.8pt, text depth=2.5pt}},
  legend image code/.code={\draw[#1, line width=1.4pt] (0pt,0pt) -- (26pt,0pt); \path (31.3pt,0pt);}]
\addplot[aG] table[x=f,y=g]{\tA}; \lent{EPH\_Cruzeiro\_1500ft\_140kt\_1.VFR (Average)}{106,16}
\addplot[aR] table[x=f,y=r]{\tA}; \lent{EPH\_Cruzeiro\_1500ft\_140kt\_2.VFR (Average)}{106,34}
\addplot[aK] table[x=f,y=k]{\tA}; \lent{EPH\_Cruzeiro\_1500ft\_140kt\_3.VFR (Average)}{107,60}
\addplot[aB] table[x=f,y=b]{\tA}; \lent{EPH\_Cruzeiro\_1500ft\_140kt\_4.VFR (Average)}{104,48}
\addplot[aM] table[x=f,y=m]{\tA}; \lent{EPH\_Cruzeiro\_1500ft\_140kt\_5.VFR (Average)}{107,99}
\coordinate (p11) at (axis cs:19.04,88.5);
\coordinate (p12) at (axis cs:38.1,81.6);
\coordinate (p13) at (axis cs:57.13,95.5);
\coordinate (p14) at (axis cs:115,101.4);
\coordinate (p15) at (axis cs:230,77.1);
\end{axis}
\frameextras{ax1}
\callout{aM}{101.7}{73.3}{118.3}{22.4}{19,04 Hz}{160.7}{p11}
\callout{kA}{172.7}{115.7}{104.6}{22}{38,1 Hz}{229.3}{p12}
\callout{aM}{204}{42.3}{118.3}{22}{57,13 Hz}{268.3}{p13}
\callout{aM}{340}{61}{97.3}{22.3}{115 Hz}{387.3}{p14}
\callout{kB}{466}{83.3}{97.3}{22.7}{230 Hz}{509.3}{p15}
\node[font=\fontsize{21.5}{24}\selectfont, anchor=base] at (518pt,-434pt)
  {\raisebox{-3pt}{\fontsize{27}{27}\selectfont[}C210N cruzeiro 140kt (hélice com 3 pás)]};

% ---------------- Panel 2
\begin{axis}[xmode=log, name=ax2, at={(77pt,-810.7pt)}, anchor=south west,
  width=953.7pt, height=365.7pt,
  xticklabels={20,50,100,200,500,1000,2000,5000,10k},
  legend style={draw=none, fill=none, inner sep=0pt, at={(0.0049,0.299)}, anchor=north west,
    font=\fontsize{10.9}{12}\selectfont, row sep=3.6pt,
    nodes={inner sep=0pt, text height=7.8pt, text depth=2.5pt}},
  legend image code/.code={\draw[#1, line width=1.4pt] (0pt,0pt) -- (25.3pt,0pt); \path (30.6pt,0pt);}]
\addplot[bG] table[x=f,y=g]{\tB}; \lent{IMA\_Cruzeiro\_2500ft\_115kt\_1.VFR (Average)}{107,18}
\addplot[bR] table[x=f,y=r]{\tB}; \lent{IMA\_Cruzeiro\_2500ft\_115kt\_2.VFR (Average)}{107,76}
\addplot[bK] table[x=f,y=k]{\tB}; \lent{IMA\_Cruzeiro\_2500ft\_115kt\_3.VFR (Average)}{106,85}
\addplot[bB] table[x=f,y=b]{\tB}; \lent{IMA\_Cruzeiro\_2500ft\_115kt\_4.VFR (Average)}{108,77}
\addplot[bM] table[x=f,y=m]{\tB}; \lent{IMA\_Cruzeiro\_2500ft\_115kt\_5.VFR (Average)}{107,39}
\addplot[bO] table[x=f,y=o]{\tB}; \lent{IMA\_Cruzeiro\_2500ft\_115kt\_6.VFR (Average)}{107,08}
\addplot[bL] table[x=f,y=l]{\tB}; \lent{IMA\_Cruzeiro\_2500ft\_115kt\_7.VFR (Average)}{107,09}
\coordinate (p21) at (axis cs:19.04,84.9);
\coordinate (p22) at (axis cs:38.82,85.2);
\coordinate (p23) at (axis cs:57.13,85.9);
\coordinate (p24) at (axis cs:115,105.9);
\coordinate (p25) at (axis cs:230,81.7);
\end{axis}
\frameextras{ax2}
\callout{kC}{97.3}{549.3}{118}{21.7}{19,04 Hz}{157.7}{p21}
\callout{kC}{170.3}{512.3}{118}{22}{38,82 Hz}{232.3}{p22}
\callout{kC}{244.3}{472.3}{118}{22}{57,13 Hz}{302.7}{p23}
\callout{kC}{376}{472.3}{97.3}{22}{115 Hz}{415}{p24}
\callout{aM}{460}{506}{98.3}{22.3}{230 Hz}{505}{p25}
\node[font=\fontsize{21.5}{24}\selectfont, anchor=base] at (518pt,-869pt)
  {[C206H cruzeiro 140kt (hélice com 3 pás)]};

% ---------------- Panel 3
\begin{axis}[xmode=log, name=ax3, at={(79pt,-1254pt)}, anchor=south west,
  width=951.7pt, height=377.3pt,
  xticklabels={20,50,100,200,500,1000,2000,5000,},
  legend style={draw=none, fill=none, inner sep=0pt, at={(0.4817,0.9754)}, anchor=north west,
    font=\fontsize{9.7}{11}\selectfont, row sep=3.3pt,
    nodes={inner sep=0pt, text height=7pt, text depth=2.3pt}},
  legend image code/.code={\draw[#1, line width=1.4pt] (0pt,0pt) -- (23.4pt,0pt); \path (27.7pt,0pt);}]
\addplot[c1] table[x=f,y=y1]{\tC}; \lent{JLE\_Cruzeiro\_2500ft\_130kt.VFR (Average)}{103,34}
\addplot[c2] table[x=f,y=y2]{\tC}; \lent{JLE\_Cruzeiro\_2500ft\_130kt.VFR (Average)}{103,92}
\addplot[c3] table[x=f,y=y3]{\tC}; \lent{JLE\_Cruzeiro\_2500ft\_130kt.VFR (Average)}{102,58}
\addplot[c4] table[x=f,y=y4]{\tC}; \lent{JLE\_Cruzeiro\_2500ft\_130kt2.VFR (Average)}{104,34}
\addplot[c5] table[x=f,y=y5]{\tC}; \lent{JLE\_Cruzeiro\_2500ft\_130kt2.VFR (Average)}{104,92}
\addplot[c6] table[x=f,y=y6]{\tC}; \lent{JLE\_Cruzeiro\_2500ft\_130kt2.VFR (Average)}{103,32}
\addplot[c7] table[x=f,y=y7]{\tC}; \lent{JLE\_Cruzeiro\_2500ft\_130kt3.VFR (Average)}{105,54}
\addplot[c8] table[x=f,y=y8]{\tC}; \lent{JLE\_Cruzeiro\_2500ft\_130kt3.VFR (Average)}{106,08}
\addplot[c9] table[x=f,y=y9]{\tC}; \lent{JLE\_Cruzeiro\_2500ft\_130kt3.VFR (Average)}{104,13}
\addplot[c10] table[x=f,y=y10]{\tC}; \lent{JLE\_Cruzeiro\_2500ft\_130kt4.VFR (Average)}{106,27}
\addplot[c11] table[x=f,y=y11]{\tC}; \lent{JLE\_Cruzeiro\_2500ft\_130kt4.VFR (Average)}{106,93}
\addplot[c12] table[x=f,y=y12]{\tC}; \lent{JLE\_Cruzeiro\_2500ft\_130kt4.VFR (Average)}{104,34}
\addplot[c13] table[x=f,y=y13]{\tC}; \lent{JLE\_Cruzeiro\_2500ft\_130kt6.VFR (Average)}{104,60}
\addplot[c14] table[x=f,y=y14]{\tC}; \lent{JLE\_Cruzeiro\_2500ft\_130kt6.VFR (Average)}{105,07}
\addplot[c15] table[x=f,y=y15]{\tC}; \lent{JLE\_Cruzeiro\_2500ft\_130kt6.VFR (Average)}{103,90}
\coordinate (p31) at (axis cs:19.04,82.2);
\coordinate (p32) at (axis cs:38.09,87.7);
\coordinate (p33) at (axis cs:56.4,79.5);
\coordinate (p34) at (axis cs:76.17,98.6);
\coordinate (p35) at (axis cs:153.2,96.5);
\end{axis}
\frameextras{ax3}
\callout{kT}{99}{956.7}{122}{22.6}{19,04 Hz}{160}{p31}
\callout{kO}{182.7}{921}{121.6}{23}{38,09 Hz}{244.3}{p32}
\callout{kS}{260}{887.3}{108.3}{23.4}{56,4 Hz}{312.7}{p33}
\callout{kS}{330.7}{917.3}{122}{22.7}{76,17 Hz}{380}{p34}
\callout{kP}{386}{946.7}{137.3}{22.6}{153,20 Hz}{442.7}{p35}
\node[font=\fontsize{21.5}{24}\selectfont, anchor=base] at (518pt,-1313.5pt)
  {[BE-55 cruzeiro 130kt (hélice com 2 pás)]};

% ---------------- Panel 4
\begin{axis}[xmode=log, name=ax4, at={(79pt,-1697.3pt)}, anchor=south west,
  width=951.7pt, height=378pt,
  xticklabels={20,50,100,200,500,1000,2000,5000,},
  legend style={draw=none, fill=none, inner sep=0pt, at={(0.4764,0.9884)}, anchor=north west,
    font=\fontsize{9.8}{11}\selectfont, row sep=3.3pt,
    nodes={inner sep=0pt, text height=7pt, text depth=2.3pt}},
  legend image code/.code={\draw[#1, line width=1.4pt] (0pt,0pt) -- (23.4pt,0pt); \path (28.4pt,0pt);}]
\addplot[d1] table[x=f,y=y1]{\tD}; \lent{RFT\_Cruzeiro\_200kt\_4000ft.VFR (Average)}{103,99}
\addplot[d2] table[x=f,y=y2]{\tD}; \lent{RFT\_Cruzeiro\_200kt\_7000ft.VFR (Average)}{103,75}
\addplot[d3] table[x=f,y=y3]{\tD}; \lent{RFT\_Cruzeiro2\_200kt\_4000ft.VFR (Average)}{103,58}
\addplot[d4] table[x=f,y=y4]{\tD}; \lent{RFT\_Cruzeiro2\_200kt\_7000ft.VFR (Average)}{104,09}
\addplot[d5] table[x=f,y=y5]{\tD}; \lent{RFT\_Cruzeiro3\_200kt\_4000ft.VFR (Average)}{103,84}
\addplot[d6] table[x=f,y=y6]{\tD}; \lent{RFT\_Cruzeiro3\_200kt\_7000ft.VFR (Average)}{104,04}
\addplot[d7] table[x=f,y=y7]{\tD}; \lent{RFT\_Cruzeiro4\_200kt\_4000ft.VFR (Average)}{104,08}
\addplot[d8] table[x=f,y=y8]{\tD}; \lent{RFT\_Cruzeiro4\_200kt\_7000ft.VFR (Average)}{103,39}
\addplot[d9] table[x=f,y=y9]{\tD}; \lent{RFT\_Cruzeiro5\_200kt\_4000ft.VFR (Average)}{104,30}
\addplot[d10] table[x=f,y=y10]{\tD}; \lent{RFT\_Cruzeiro5\_200kt\_7000ft.VFR (Average)}{103,51}
\addplot[d11] table[x=f,y=y11]{\tD}; \lent{RFT\_Cruzeiro6\_200kt\_7000ft.VFR (Average)}{103,20}
\addplot[d12] table[x=f,y=y12]{\tD}; \lent{RFT\_Cruzeiro7\_200kt\_7000ft.VFR (Average)}{103,52}
\addplot[d13] table[x=f,y=y13]{\tD}; \lent{RFT\_Cruzeiro8\_200kt\_7000ft.VFR (Average)}{102,15}
\coordinate (p41) at (axis cs:30.76,91.3);
\coordinate (p42) at (axis cs:61.41,78.9);
\coordinate (p43) at (axis cs:93.02,100.4);
\coordinate (p44) at (axis cs:185.3,94.2);
\end{axis}
\frameextras{ax4}
\callout{kY}{148.3}{1400}{121.7}{22.7}{30,76 Hz}{212.7}{p41}
\callout{kS}{221.7}{1362.3}{121.6}{22.7}{61,41 Hz}{285}{p42}
\callout{kS}{312.3}{1332.3}{121.7}{23.4}{93,02 Hz}{371}{p43}
\callout{kD}{385.7}{1391}{121.6}{22.3}{185,3 Hz}{446}{p44}
\node[font=\fontsize{21.5}{24}\selectfont, anchor=base] at (518pt,-1749pt)
  {[EMB-820C cruzeiro 200kt (hélice com 3 pás)]};
\end{tikzpicture}
\end{document}
